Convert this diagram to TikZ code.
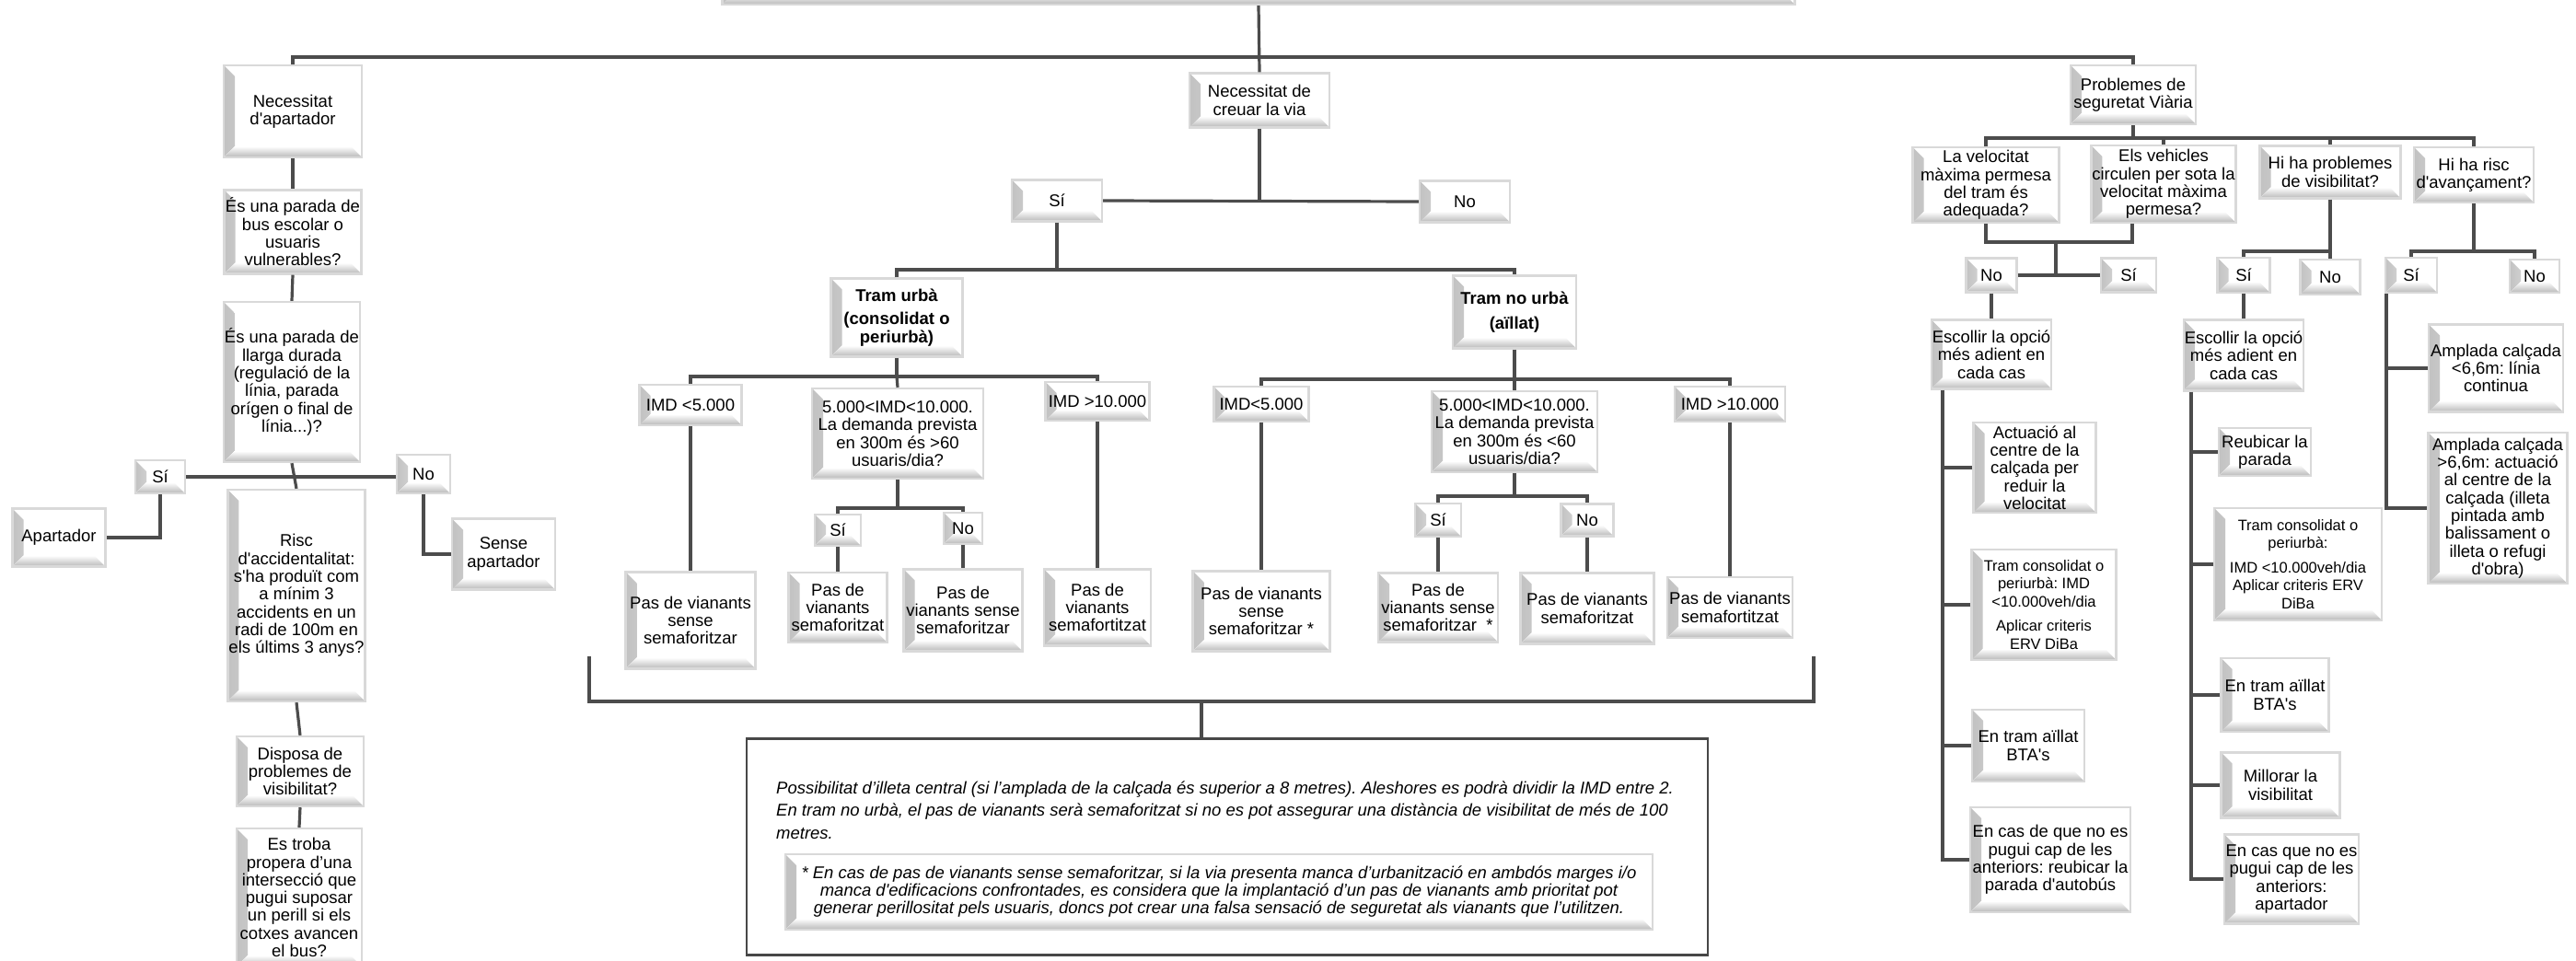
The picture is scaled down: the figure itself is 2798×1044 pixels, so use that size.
\documentclass[tikz,border=0pt]{standalone}
\usepackage{fontspec}
\newfontfamily\arial{Liberation Sans}
\usetikzlibrary{calc}
\frenchspacing

\tikzset{
  caixa/.style={draw=black!15, line width=2.4pt, fill=white, align=center,
    inner sep=1pt, font=\arial\fontsize{18.5}{19.3}\selectfont,
    path picture={
      \fill[left color=black!24, right color=white]
        (path picture bounding box.north west) -- ([shift={(12pt,-12pt)}]path picture bounding box.north west)
        -- ([shift={(12pt,12pt)}]path picture bounding box.south west) -- (path picture bounding box.south west) -- cycle;
      \fill[top color=white, bottom color=black!28]
        (path picture bounding box.south west) -- ([shift={(12pt,12pt)}]path picture bounding box.south west)
        -- ([shift={(-12pt,12pt)}]path picture bounding box.south east) -- (path picture bounding box.south east) -- cycle;
    }},
  petita/.style={font=\arial\fontsize{16.5}{19.5}\selectfont},
  linia/.style={draw=black!70, line width=3.2pt},
  marc/.style={draw=black!72, line width=2.2pt, fill=white},
  nota/.style={font=\arial\itshape\fontsize{18.5}{24.5}\selectfont, align=left, inner sep=0pt},
}

\begin{document}
\begin{tikzpicture}[x=1pt, y=-1pt]
  \path[use as bounding box, clip] (0,0) rectangle (2798,1044);
  \fill[white] (0,0) rectangle (2798,1044);

  % capçalera
  \node[caixa, minimum width=1165pt, minimum height=70pt] (cap) at (1367,-30) {};

  % parada: apartador
  \node[caixa, minimum width=150pt, minimum height=100pt] (ap) at (318,121) {Necessitat\\d'apartador};
  \node[caixa, minimum width=149pt, minimum height=91pt] (escolar) at (318,252) {És una parada de\\bus escolar o\\usuaris\\vulnerables?};
  \node[caixa, minimum width=148pt, minimum height=174pt] (llarga) at (317,415) {És una parada de\\llarga durada\\(regulació de la\\línia, parada\\orígen o final de\\línia...)?};
  \node[caixa, minimum width=54pt, minimum height=36pt] (si1) at (174,518) {Sí};
  \node[caixa, minimum width=58pt, minimum height=42pt] (no1) at (460,515) {No};
  \node[caixa, minimum width=101pt, minimum height=63pt] (apartador) at (64,584) {Apartador};
  \node[caixa, minimum width=112pt, minimum height=77pt] (sense) at (547,602) {Sense\\apartador};
  \node[caixa, minimum width=148pt, minimum height=230pt] (risc) at (322,647) {Risc\\d'accidentalitat:\\s'ha produït com\\a mínim 3\\accidents en un\\radi de 100m en\\els últims 3 anys?};
  \node[caixa, minimum width=138pt, minimum height=76pt] (visib) at (326,838) {Disposa de\\problemes de\\visibilitat?};
  \node[caixa, minimum width=136pt, minimum height=150pt] (troba) at (325,975) {Es troba\\propera d’una\\intersecció que\\pugui suposar\\un perill si els\\cotxes avancen\\el bus?};

  % creuar la via
  \node[caixa, minimum width=152pt, minimum height=59pt] (creuar) at (1368,109) {Necessitat de\\creuar la via};
  \node[caixa, minimum width=98pt, minimum height=45pt] (si2) at (1148,218) {Sí};
  \node[caixa, minimum width=98pt, minimum height=45pt] (no2) at (1591,219) {No};
  \node[caixa, minimum width=143pt, minimum height=85pt] (urba) at (974,345) {\textbf{Tram urbà}\\[6pt]\textbf{(consolidat o}\\\textbf{periurbà)}};
  \node[caixa, minimum width=134pt, minimum height=79pt] (nourba) at (1645,339) {\textbf{Tram no urbà}\\[8pt]\textbf{(aïllat)}};

  \node[caixa, minimum width=111pt, minimum height=44pt] (imd1) at (750,440) {IMD <5.000};
  \node[caixa, minimum width=186pt, minimum height=98pt] (dem1) at (975,471) {5.000<IMD<10.000.\\La demanda prevista\\en 300m és >60\\usuaris/dia?};
  \node[caixa, minimum width=113pt, minimum height=42pt] (imd2) at (1192,436) {IMD >10.000};
  \node[caixa, minimum width=141pt, minimum height=105pt] (pas1) at (750,674) {Pas de vianants\\sense\\semaforitzar};
  \node[caixa, minimum width=50pt, minimum height=34pt] (dsi1) at (910,576) {Sí};
  \node[caixa, minimum width=42pt, minimum height=34pt] (dno1) at (1046,574) {No};
  \node[caixa, minimum width=107pt, minimum height=76pt] (pas2) at (910,660) {Pas de\\vianants\\semaforitzat};
  \node[caixa, minimum width=129pt, minimum height=89pt] (pas3) at (1046,663) {Pas de\\vianants sense\\semaforitzar};
  \node[caixa, minimum width=116pt, minimum height=83pt] (pas4) at (1192,660) {Pas de\\vianants\\semafortitzat};

  \node[caixa, minimum width=103pt, minimum height=38pt] (imd3) at (1370,439) {IMD<5.000};
  \node[caixa, minimum width=180pt, minimum height=88pt] (dem2) at (1645,469) {5.000<IMD<10.000.\\La demanda prevista\\en 300m és <60\\usuaris/dia?};
  \node[caixa, minimum width=120pt, minimum height=38pt] (imd4) at (1879,439) {IMD >10.000};
  \node[caixa, minimum width=149pt, minimum height=87pt] (pas5) at (1370,664) {Pas de vianants\\sense\\semaforitzar *};
  \node[caixa, minimum width=50pt, minimum height=36pt] (dsi2) at (1562,565) {Sí};
  \node[caixa, minimum width=57pt, minimum height=35pt] (dno2) at (1724,565) {No};
  \node[caixa, minimum width=130pt, minimum height=75pt] (pas6) at (1562,660) {Pas de\\vianants sense\\semaforitzar~~*};
  \node[caixa, minimum width=145pt, minimum height=77pt] (pas7) at (1724,661) {Pas de vianants\\semaforitzat};
  \node[caixa, minimum width=136pt, minimum height=66pt] (pas8) at (1879,660) {Pas de vianants\\semafortitzat};

  % nota
  \node[marc, minimum width=1044pt, minimum height=235pt] (nota) at (1333,920) {};
  \node[nota, anchor=west] (notatext) at (843,880) {Possibilitat d’illeta central (si l’amplada de la calçada és superior a 8 metres). Aleshores es podrà dividir la IMD entre 2.\\En tram no urbà, el pas de vianants serà semaforitzat si no es pot assegurar una distància de visibilitat de més de 100\\metres.};
  \node[caixa, minimum width=942pt, minimum height=82pt, font=\arial\itshape\fontsize{18.5}{19}\selectfont] (asterisc) at (1324,969) {* En cas de pas de vianants sense semaforitzar, si la via presenta manca d’urbanització en ambdós marges i/o\\manca d'edificacions confrontades, es considera que la implantació d’un pas de vianants amb prioritat pot\\generar perillositat pels usuaris, doncs pot crear una falsa sensació de seguretat als vianants que l’utilitzen.};

  % seguretat viaria
  \node[caixa, minimum width=136pt, minimum height=64pt] (prob) at (2317,103) {Problemes de\\seguretat Viària};
  \node[caixa, minimum width=159pt, minimum height=82pt] (vel) at (2157,201) {La velocitat\\màxima permesa\\del tram és\\adequada?};
  \node[caixa, minimum width=157pt, minimum height=84pt] (veh) at (2350,200) {Els vehicles\\circulen per sota la\\velocitat màxima\\permesa?};
  \node[caixa, minimum width=153pt, minimum height=57pt] (vis) at (2531,187) {Hi ha problemes\\de visibilitat?};
  \node[caixa, minimum width=130pt, minimum height=60pt] (risc2) at (2687,190) {Hi ha risc\\d'avançament?};
  \node[caixa, minimum width=55pt, minimum height=37pt] (no3) at (2163,299) {No};
  \node[caixa, minimum width=60pt, minimum height=37pt] (si3) at (2312,299) {Sí};
  \node[caixa, minimum width=57pt, minimum height=38pt] (si4) at (2437,299) {Sí};
  \node[caixa, minimum width=65pt, minimum height=38pt] (no4) at (2531,301) {No};
  \node[caixa, minimum width=56pt, minimum height=38pt] (si5) at (2619,299) {Sí};
  \node[caixa, minimum width=54pt, minimum height=36pt] (no5) at (2753,300) {No};

  \node[caixa, minimum width=130pt, minimum height=75pt] (esc1) at (2163,385) {Escollir la opció\\més adient en\\cada cas};
  \node[caixa, minimum width=133pt, minimum height=98pt] (act) at (2210,508) {Actuació al\\centre de la\\calçada per\\reduir la\\velocitat};
  \node[caixa, petita, minimum width=157pt, minimum height=120pt] (tc1) at (2220,657) {Tram consolidat o\\periurbà: IMD\\<10.000veh/dia\\[7pt]Aplicar criteris\\ERV DiBa};
  \node[caixa, minimum width=122pt, minimum height=78pt] (ta1) at (2203,810) {En tram aïllat\\BTA's};
  \node[caixa, minimum width=174pt, minimum height=114pt] (ec1) at (2227,934) {En cas de que no es\\pugui cap de les\\anteriors: reubicar la\\parada d'autobús};

  \node[caixa, minimum width=130pt, minimum height=77pt] (esc2) at (2437,386) {Escollir la opció\\més adient en\\cada cas};
  \node[caixa, minimum width=100pt, minimum height=52pt] (reub) at (2460,491) {Reubicar la\\parada};
  \node[caixa, petita, minimum width=182pt, minimum height=122pt] (tc2) at (2496,613) {Tram consolidat o\\periurbà:\\[7pt]IMD <10.000veh/dia\\Aplicar criteris ERV\\DiBa};
  \node[caixa, minimum width=117pt, minimum height=80pt] (ta2) at (2471,755) {En tram aïllat\\BTA's};
  \node[caixa, minimum width=129pt, minimum height=71pt] (mill) at (2477,853) {Millorar la\\visibilitat};
  \node[caixa, minimum width=146pt, minimum height=97pt] (ec2) at (2489,955) {En cas que no es\\pugui cap de les\\anteriors:\\apartador};

  \node[caixa, minimum width=146pt, minimum height=95pt] (amp1) at (2711,400) {Amplada calçada\\<6,6m: línia\\continua};
  \node[caixa, minimum width=151pt, minimum height=164pt] (amp2) at (2713,552) {Amplada calçada\\>6,6m: actuació\\al centre de la\\calçada (illeta\\pintada amb\\balissament o\\illeta o refugi\\d'obra)};

  % connexions
  \coordinate (bus) at (1367,62);
  \draw[linia] (ap.north) |- (bus) -| (prob.north);
  \draw[linia] (cap.south) -- (creuar.north);

  \draw[linia] (ap.south) -- (escolar.north);
  \draw[linia] (escolar.south) -- (llarga.north);
  \draw[linia] (llarga.south) -- (risc.north);
  \draw[linia] (si1.east) -- (si1.east -| no1.west);
  \draw[linia] (si1.south) |- (apartador.east);
  \draw[linia] (no1.south) |- (sense.west);
  \draw[linia] (risc.south) -- (visib.north);
  \draw[linia] (visib.south) -- (troba.north);

  \draw[linia] (creuar.south) -- (creuar.south |- si2.east);
  \draw[linia] (si2.east) -- (no2.west);
  \coordinate (tram) at (1148,293);
  \draw[linia] (si2.south) -- (tram);
  \draw[linia] (urba.north) |- (tram) -| (nourba.north);

  \coordinate (urbabus) at (974,409);
  \draw[linia] (urba.south) -- (urbabus);
  \draw[linia] (imd1.north) |- (urbabus) -| (imd2.north);
  \draw[linia] (urbabus) -- (dem1.north);
  \draw[linia] (imd1.south) -- (pas1.north);
  \coordinate (dem1bus) at (975,552);
  \draw[linia] (dem1.south) -- (dem1bus);
  \draw[linia] (dsi1.north) |- (dem1bus) -| (dno1.north);
  \draw[linia] (dsi1.south) -- (pas2.north);
  \draw[linia] (dno1.south) -- (pas3.north);
  \draw[linia] (imd2.south) -- (pas4.north);

  \coordinate (nourbabus) at (1645,412);
  \draw[linia] (nourba.south) -- (nourbabus);
  \draw[linia] (imd3.north) |- (nourbabus) -| (imd4.north);
  \draw[linia] (nourbabus) -- (dem2.north);
  \draw[linia] (imd3.south) -- (pas5.north);
  \coordinate (dem2bus) at (1645,539);
  \draw[linia] (dem2.south) -- (dem2bus);
  \draw[linia] (dsi2.north) |- (dem2bus) -| (dno2.north);
  \draw[linia] (dsi2.south) -- (pas6.north);
  \draw[linia] (dno2.south) -- (pas7.north);
  \draw[linia] (imd4.south) -- (pas8.north);

  \coordinate (clauE) at (640,713);
  \coordinate (clauD) at (1970,713);
  \coordinate (clau) at (1305,762);
  \draw[linia] (clauE) |- (clau) -| (clauD);
  \draw[linia] (clau) -- (clau |- nota.north);

  \coordinate (seg) at (2317,150);
  \draw[linia] (prob.south) -- (seg);
  \draw[linia] (vel.north) |- (seg) -| (risc2.north);
  \draw[linia] (veh.north) -- (veh.north |- seg);
  \draw[linia] (vis.north) -- (vis.north |- seg);

  \coordinate (velbus) at (2233,263);
  \draw[linia] (vel.south) |- (velbus) -| ([xshift=-34pt]veh.south);
  \draw[linia] (velbus) -- (velbus |- no3.east);
  \draw[linia] (no3.east) -- (si3.west);
  \draw[linia] (no3.south) -- (esc1.north);
  \draw[linia] ([xshift=-53pt]esc1.south) coordinate (esc1t) |- (ec1.west);
  \foreach \n in {act,tc1,ta1} \draw[linia] (\n.west) -- (\n.west -| esc1t);

  \coordinate (visbus) at (2531,273);
  \draw[linia] (vis.south) -- (visbus);
  \draw[linia] (si4.north) |- (visbus) -| (no4.north);
  \draw[linia] (si4.south) -- (esc2.north);
  \draw[linia] ([xshift=-57pt]esc2.south) coordinate (esc2t) |- (ec2.west);
  \foreach \n in {reub,tc2,ta2,mill} \draw[linia] (\n.west) -- (\n.west -| esc2t);

  \coordinate (riscbus) at (2687,273);
  \draw[linia] (risc2.south) -- (riscbus);
  \draw[linia] (si5.north) |- (riscbus) -| (no5.north);
  \draw[linia] ([xshift=-27pt]si5.south) coordinate (si5t) |- (amp2.west);
  \draw[linia] (amp1.west) -- (amp1.west -| si5t);
\end{tikzpicture}
\end{document}
